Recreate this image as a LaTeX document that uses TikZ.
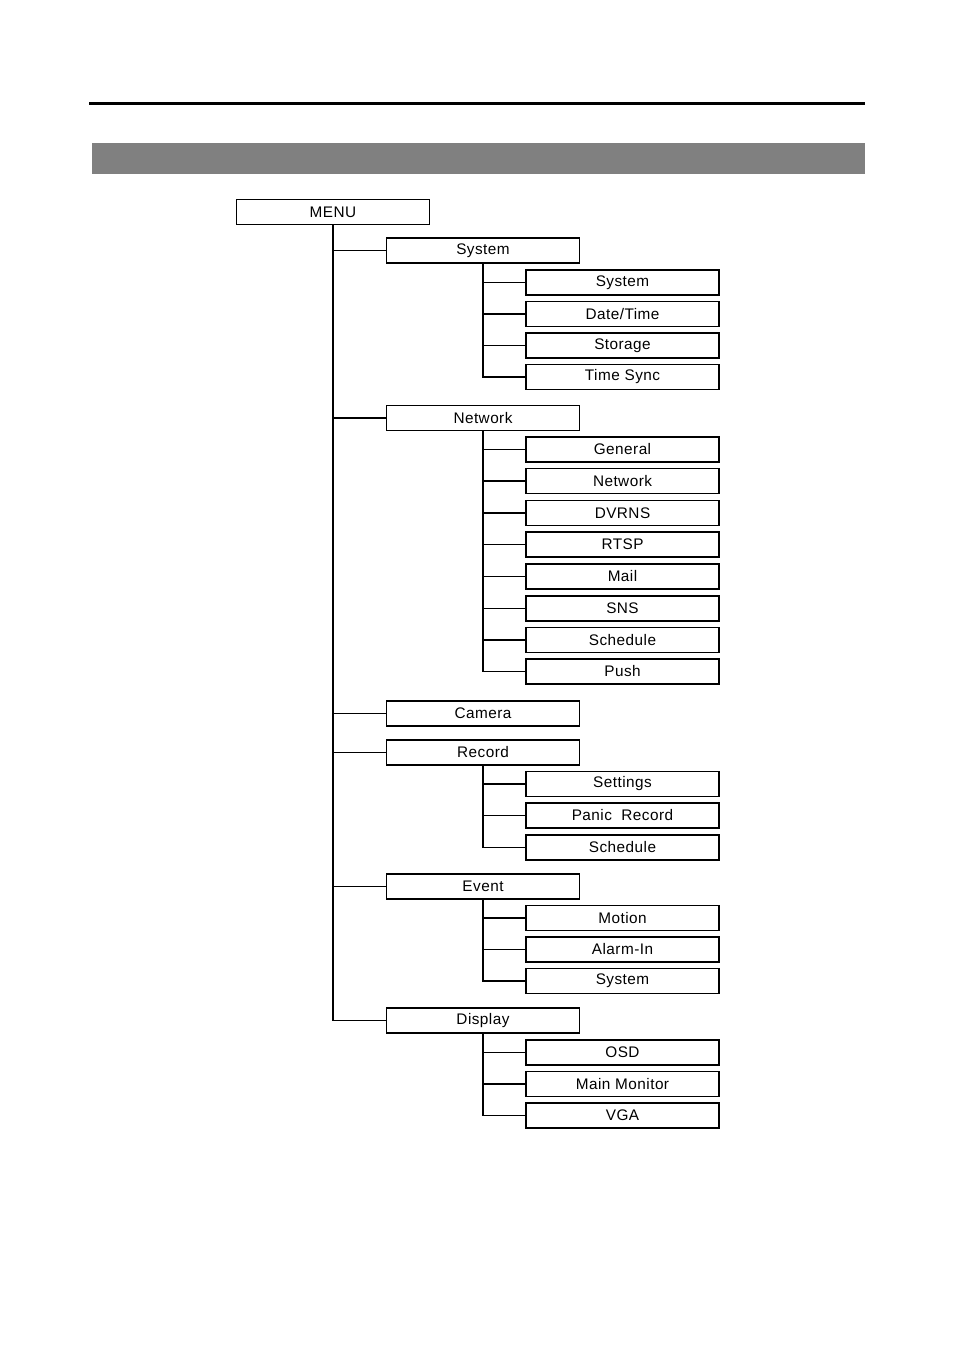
\documentclass[tikz,border=0pt]{standalone}
\usepackage{fontspec}
\setmainfont{Liberation Sans}[LetterSpace=3]
\begin{document}
\begin{tikzpicture}[x=0.75pt,y=-0.75pt,
  box/.style={draw=black,line width=1.2pt,rectangle,minimum width=145pt,minimum height=18.5pt,inner sep=0pt,font=\fontsize{11.5pt}{13pt}\selectfont},
  link/.style={draw=black,line width=1.1pt}]
\useasboundingbox (0,0) rectangle (954,1348);
\draw[line width=2.2pt] (89,103.5) -- (865,103.5);
\fill[black!50] (92,143) rectangle (865,174);
% root
\node[box] (menu) at (333,212) {MENU};
% level 1
\node[box] (sys) at (483,250.5) {System};
\node[box] (net) at (483,418) {Network};
\node[box] (cam) at (483,713.5) {Camera};
\node[box] (rec) at (483,752.5) {Record};
\node[box] (evt) at (483,886.5) {Event};
\node[box] (dis) at (483,1020.5) {Display};
% level 2
\node[box] (s1) at (622.5,282.5) {System};
\node[box] (s2) at (622.5,314) {Date/Time};
\node[box] (s3) at (622.5,345.5) {Storage};
\node[box] (s4) at (622.5,377) {Time Sync};
\node[box] (n1) at (622.5,449.5) {General};
\node[box] (n2) at (622.5,481) {Network};
\node[box] (n3) at (622.5,513) {DVRNS};
\node[box] (n4) at (622.5,544.5) {RTSP};
\node[box] (n5) at (622.5,576.5) {Mail};
\node[box] (n6) at (622.5,608.5) {SNS};
\node[box] (n7) at (622.5,640) {Schedule};
\node[box] (n8) at (622.5,671.5) {Push};
\node[box] (r1) at (622.5,784) {Settings};
\node[box] (r2) at (622.5,815.5) {Panic\ \ Record};
\node[box] (r3) at (622.5,847.5) {Schedule};
\node[box] (e1) at (622.5,918) {Motion};
\node[box] (e2) at (622.5,949.5) {Alarm-In};
\node[box] (e3) at (622.5,981) {System};
\node[box] (d1) at (622.5,1052.5) {OSD};
\node[box] (d2) at (622.5,1084) {Main Monitor};
\node[box] (d3) at (622.5,1115.5) {VGA};
% connectors
\foreach \c in {sys,net,cam,rec,evt,dis} \draw[link] (menu.south) |- (\c.west);
\foreach \c in {s1,s2,s3,s4} \draw[link] (sys.south) |- (\c.west);
\foreach \c in {n1,n2,n3,n4,n5,n6,n7,n8} \draw[link] (net.south) |- (\c.west);
\foreach \c in {r1,r2,r3} \draw[link] (rec.south) |- (\c.west);
\foreach \c in {e1,e2,e3} \draw[link] (evt.south) |- (\c.west);
\foreach \c in {d1,d2,d3} \draw[link] (dis.south) |- (\c.west);
\end{tikzpicture}
\end{document}
